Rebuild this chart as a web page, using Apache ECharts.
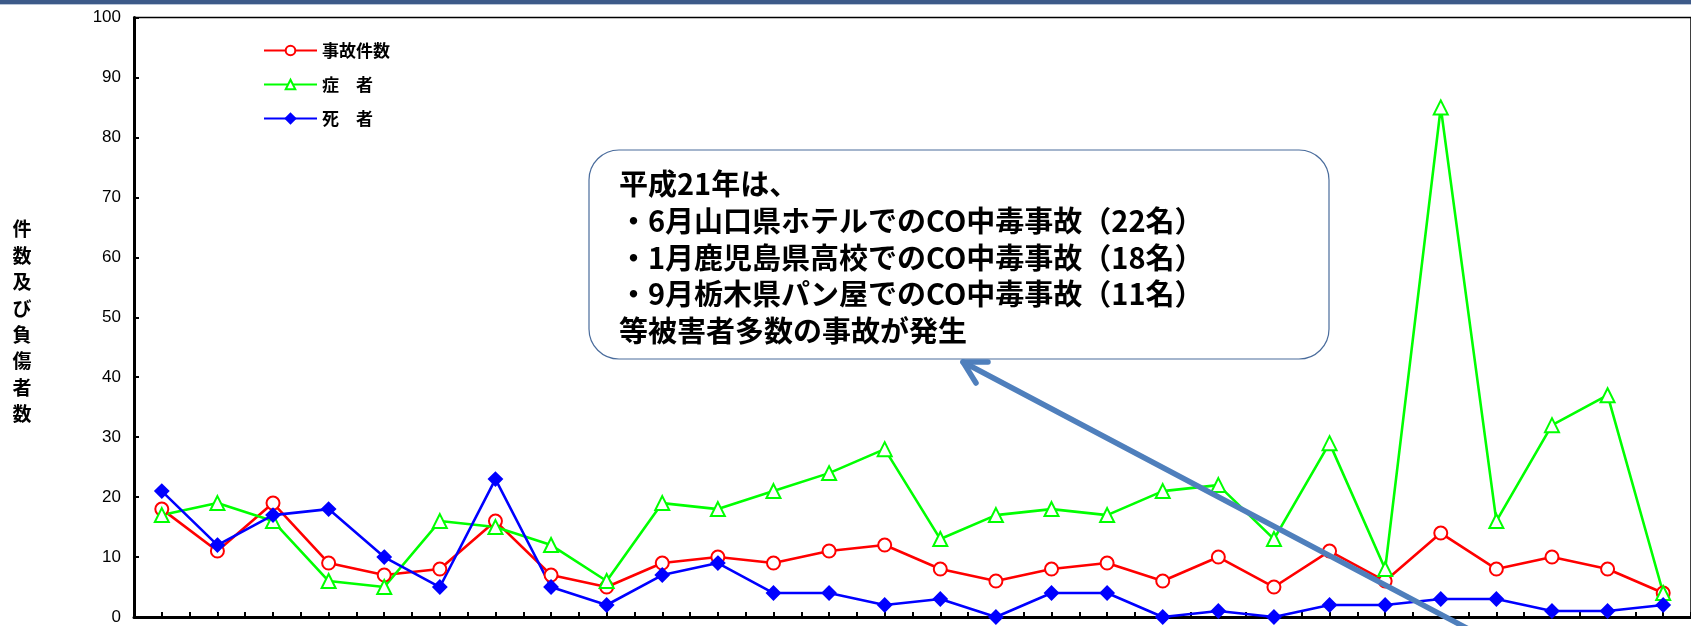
<!DOCTYPE html>
<html>
<head>
<meta charset="utf-8">
<script src="https://cdn.jsdelivr.net/npm/echarts@6/dist/echarts.min.js"></script>
<style>
html,body{margin:0;padding:0;background:#fff;}
#chart{width:1691px;height:626px;}
</style>
</head>
<body>
<div id="chart"></div>
<script>
// --- data (28 periods, x labels not visible in the reference) ---
const seriesNames = ['事故件数', '症　者', '死　者'];
const accidents = [18, 11, 19, 9, 7, 8, 16, 7, 5, 9, 10, 9, 11, 12, 8, 6, 8, 9, 6, 10, 5, 11, 6, 14, 8, 10, 8, 4];
const injured   = [17, 19, 16, 6, 5, 16, 15, 12, 6, 19, 18, 21, 24, 28, 13, 17, 18, 17, 21, 22, 13, 29, 8, 85, 16, 32, 37, 4];
const deaths    = [21, 12, 17, 18, 10, 5, 23, 5, 2, 7, 9, 4, 4, 2, 3, 0, 4, 4, 0, 1, 0, 2, 2, 3, 3, 1, 1, 2];
const yTicks = [0, 10, 20, 30, 40, 50, 60, 70, 80, 90, 100];
const yTitle = '件数及び負傷者数';
const noteLines = [
  '平成21年は、',
  '・6月山口県ホテルでのCO中毒事故（22名）',
  '・1月鹿児島県高校でのCO中毒事故（18名）',
  '・9月栃木県パン屋でのCO中毒事故（11名）',
  '等被害者多数の事故が発生'
];

const toXY = arr => arr.map((v, i) => [i, v]);
const chart = echarts.init(document.getElementById('chart'));
const fontJP = '"Noto Sans CJK JP", "Noto Sans", sans-serif';

const lineSeries = (name, data, color, symbol, size) => ({
  name, type: 'line', data: toXY(data),
  symbol, symbolSize: size, showSymbol: true,
  lineStyle: { color, width: 2.6 },
  itemStyle: { color, borderColor: color, borderWidth: 2 },
  emphasis: { disabled: true },
  animation: false, z: 3
});

chart.setOption({
  animation: false,
  backgroundColor: '#fff',
  grid: {
    left: 134, top: 17.5, width: 1569, height: 599.5,
    show: true, borderColor: '#000', borderWidth: 1.5, backgroundColor: 'transparent'
  },
  legend: {
    orient: 'vertical', left: 258, top: 37,
    itemWidth: 53, itemHeight: 12, itemGap: 17,
    textStyle: { fontFamily: fontJP, fontWeight: 'bold', fontSize: 17, color: '#000' },
    data: seriesNames
  },
  xAxis: {
    type: 'value', min: -0.5, max: 27.5, interval: 0.5,
    axisLine: { show: true, onZero: false, lineStyle: { color: '#000', width: 3 } },
    axisTick: { show: true, inside: true, length: 5, lineStyle: { color: '#000', width: 2 } },
    axisLabel: { show: false },
    splitLine: { show: false }
  },
  yAxis: {
    type: 'value', min: yTicks[0], max: yTicks[yTicks.length - 1], interval: 10,
    axisLine: { show: true, onZero: false, lineStyle: { color: '#000', width: 3 } },
    axisTick: { show: true, inside: true, length: 5, lineStyle: { color: '#000', width: 2 } },
    axisLabel: { color: '#000', fontSize: 17, fontFamily: '"Liberation Sans", Arial, sans-serif', margin: 13 },
    splitLine: { show: false }
  },
  series: [
    lineSeries(seriesNames[0], accidents, '#ff0000', 'emptyCircle', 13),
    lineSeries(seriesNames[1], injured, '#00ff00', 'emptyTriangle', 14),
    lineSeries(seriesNames[2], deaths, '#0000ff', 'diamond', 13)
  ],
  graphic: [
    { type: 'rect', shape: { x: 0, y: 0, width: 1691, height: 4 }, style: { fill: '#3d5a89' }, z: 50 },
    { type: 'rect', shape: { x: 0, y: 4, width: 1691, height: 1 }, style: { fill: '#b9c5d8' }, z: 50 },
    {
      type: 'text', x: 22, y: 216, z: 50,
      style: {
        text: yTitle.split('').join('\n'),
        font: 'bold 19px ' + fontJP, fill: '#000', lineHeight: 26.4, align: 'center'
      }
    },
    {
      type: 'rect', z: 60,
      shape: { x: 589, y: 150, width: 740, height: 209, r: 30 },
      style: { fill: '#fff', stroke: '#4a6c9c', lineWidth: 1.2 }
    },
    {
      type: 'text', x: 619, y: 166, z: 61,
      style: {
        text: noteLines.join('\n'),
        font: 'bold 29px ' + fontJP, fill: '#000', lineHeight: 36.7
      }
    },
    {
      type: 'polyline', z: 70,
      shape: { points: [[1510, 651], [963, 362]] },
      style: { stroke: '#4f7fbc', lineWidth: 5.5, lineCap: 'round', fill: null }
    },
    {
      type: 'polyline', z: 70,
      shape: { points: [[988, 362], [963, 362], [976, 383]] },
      style: { stroke: '#4f7fbc', lineWidth: 5.5, lineCap: 'round', lineJoin: 'round', fill: null }
    }
  ]
});
</script>
</body>
</html>
